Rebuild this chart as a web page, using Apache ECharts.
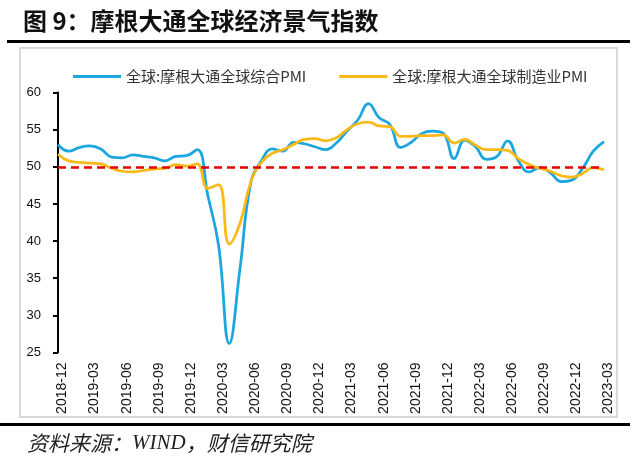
<!DOCTYPE html>
<html>
<head>
<meta charset="utf-8">
<script src="https://cdn.jsdelivr.net/npm/echarts@6/dist/echarts.min.js"></script>
<style>
html,body{margin:0;padding:0;background:#fff;}
#main{width:640px;height:463px;}
</style>
</head>
<body>
<div id="main"></div>
<script>
// ---- data ----
const months = [
  '2018-12','2019-01','2019-02','2019-03','2019-04','2019-05','2019-06','2019-07','2019-08','2019-09','2019-10','2019-11',
  '2019-12','2020-01','2020-02','2020-03','2020-04','2020-05','2020-06','2020-07','2020-08','2020-09','2020-10','2020-11',
  '2020-12','2021-01','2021-02','2021-03','2021-04','2021-05','2021-06','2021-07','2021-08','2021-09','2021-10','2021-11',
  '2021-12','2022-01','2022-02','2022-03','2022-04','2022-05','2022-06','2022-07','2022-08','2022-09','2022-10','2022-11',
  '2022-12','2023-01','2023-02','2023-03'
];
const compositePMI = [
  53.0,52.1,52.6,52.8,52.4,51.3,51.2,51.6,51.4,51.2,50.8,51.4,
  51.5,52.3,46.1,39.4,26.2,36.3,47.8,50.8,52.4,52.1,53.3,53.1,
  52.7,52.3,53.2,54.8,56.3,58.5,56.6,55.7,52.6,53.3,54.5,54.8,
  54.5,51.1,53.6,52.7,51.0,51.4,53.5,50.8,49.3,49.9,49.2,48.0,
  48.2,49.8,52.1,53.4
];
const manufacturingPMI = [
  51.7,50.8,50.6,50.5,50.4,49.8,49.4,49.3,49.5,49.7,49.8,50.3,
  50.1,50.4,47.1,47.6,39.6,42.4,47.9,50.6,51.8,52.3,53.0,53.7,
  53.8,53.5,53.9,55.0,55.8,56.0,55.5,55.4,54.1,54.1,54.2,54.2,
  54.3,53.2,53.7,52.9,52.3,52.3,52.2,51.1,50.3,49.8,49.4,48.8,
  48.6,49.1,49.9,49.6
];
const threshold = [50];
const seriesNames = ['全球:摩根大通全球综合PMI','全球:摩根大通全球制造业PMI'];
const yTicks = { min: 25, max: 60, interval: 5 };
const titleText = '图 9：摩根大通全球经济景气指数';
const sourceParts = ['资料来源：', 'WIND', '，财信研究院'];

const chart = echarts.init(document.getElementById('main'), null, {renderer:'canvas'});
const option = {
  animation: false,
  backgroundColor: '#ffffff',
  graphic: [
    { type:'text', left: 23, top: 9, style:{ text: titleText, font: 'bold 24px "Noto Sans CJK SC"', fill:'#111' } },
    { type:'rect', shape:{ x:7, y:40, width:623, height:3 }, style:{ fill:'#000' } },
    { type:'rect', shape:{ x:20, y:48, width:597, height:369 }, style:{ fill:'none', stroke:'#d9d9d9', lineWidth:2 } },
    { type:'rect', shape:{ x:0, y:423, width:630, height:3 }, style:{ fill:'#000' } },
    { type:'text', left: 27, top: 433, style:{
        text: '{a|' + sourceParts[0] + '}{b|' + sourceParts[1] + '}{a|' + sourceParts[2] + '}',
        rich: {
          a: { font: 'italic 21px "Noto Sans CJK SC"', fill: '#222' },
          b: { font: 'italic 21px "Liberation Serif"', fill: '#222' }
        }
      } }
  ],
  legend: {
    left: 68, top: 64,
    itemWidth: 48, itemHeight: 3, itemGap: 33,
    icon: 'rect',
    textStyle: { fontSize: 15, color: '#333', fontFamily: '"Noto Sans CJK SC"' },
    data: seriesNames
  },
  grid: { left: 58, right: 36, top: 92.5, bottom: 110.5, containLabel: false },
  xAxis: {
    type: 'category',
    data: months,
    boundaryGap: false,
    axisLine: { show: false },
    axisTick: { show: false },
    axisLabel: {
      interval: 2, rotate: 90, margin: 10,
      fontSize: 14, color: '#111', fontFamily: '"Liberation Sans"',
      verticalAlign: 'top', lineHeight: 9
    }
  },
  yAxis: {
    type: 'value',
    min: yTicks.min, max: yTicks.max, interval: yTicks.interval,
    axisLine: { show: true, lineStyle: { color: '#000', width: 2 } },
    axisTick: { show: true, inside: false, length: 5, lineStyle: { color: '#000', width: 2 } },
    axisLabel: { fontSize: 13, color: '#111', margin: 17, fontFamily: '"Liberation Sans"' },
    splitLine: { show: false }
  },
  series: [
    {
      name: seriesNames[0], type: 'line', data: compositePMI,
      smooth: 0.45, symbol: 'none',
      lineStyle: { color: '#1AA6DF', width: 2.75 },
      itemStyle: { color: '#1AA6DF' }
    },
    {
      name: seriesNames[1], type: 'line', data: manufacturingPMI,
      smooth: 0.45, symbol: 'none',
      lineStyle: { color: '#FBB917', width: 2.75 },
      itemStyle: { color: '#FBB917' },
      markLine: {
        silent: true, symbol: 'none', label: { show: false },
        lineStyle: { color: '#E60000', width: 2.5, type: [8, 5] },
        data: threshold.map(v => ({ yAxis: v }))
      }
    }
  ]
};
chart.setOption(option);
</script>
</body>
</html>
